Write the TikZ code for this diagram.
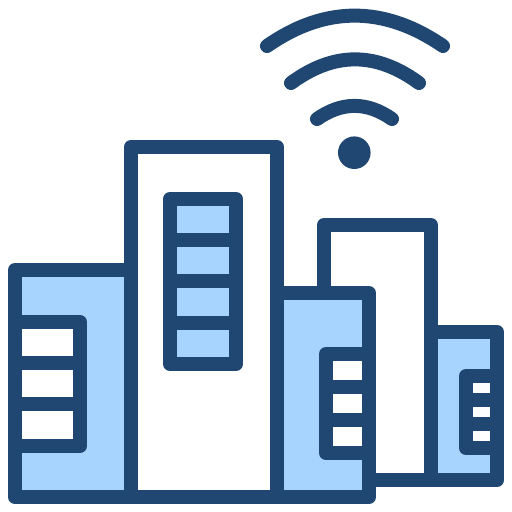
\documentclass[tikz,border=0pt]{standalone}
\definecolor{navy}{HTML}{1F4771}
\definecolor{sky}{HTML}{A6D4FF}
\begin{document}
\begin{tikzpicture}[x=1pt, y=-1pt]
\useasboundingbox (0, 0) rectangle (512, 512);
\tikzstyle{every path} = [draw=navy, line width=14pt, line join=round]
\tikzstyle{blue} = [fill=sky]
\tikzstyle{white} = [fill=white]
\tikzstyle{wave} = [line cap=round]
% buildings
\path [white] (324, 225) rectangle (431, 480);
\path [blue] (431, 332) rectangle (497, 480);
\path [white] (131, 147) rectangle (277, 497);
\path [blue] (15, 270) rectangle (131, 497);
\path [blue] (277, 293) rectangle (369, 497);
% windows
\path [blue] (170, 199) rectangle (236, 364);
\foreach \y in {240, 281, 323}
\draw (170, \y) -- (236, \y);
\path [white] (15, 322) rectangle (80, 446);
\foreach \y in {363, 404}
\draw (15, \y) -- (80, \y);
\path [white] (326, 354) rectangle (369, 453);
\foreach \y in {387, 420}
\draw (326, \y) -- (369, \y);
\path [white] (466, 376) rectangle (497, 448);
\foreach \y in {400, 424}
\draw (466, \y) -- (497, \y);
% signal
\draw [wave] (267, 46) .. controls (325, 5.5) and (384, 5.5) .. (443, 46);
\draw [wave] (291, 83) .. controls (334, 51.5) and (376, 51.5) .. (419, 83);
\draw [wave] (317, 119) .. controls (342, 101.5) and (367, 101.5) .. (392, 119);
\fill [navy, draw=none] (354.3, 152.7) circle (16.3);
\end{tikzpicture}
\end{document}
